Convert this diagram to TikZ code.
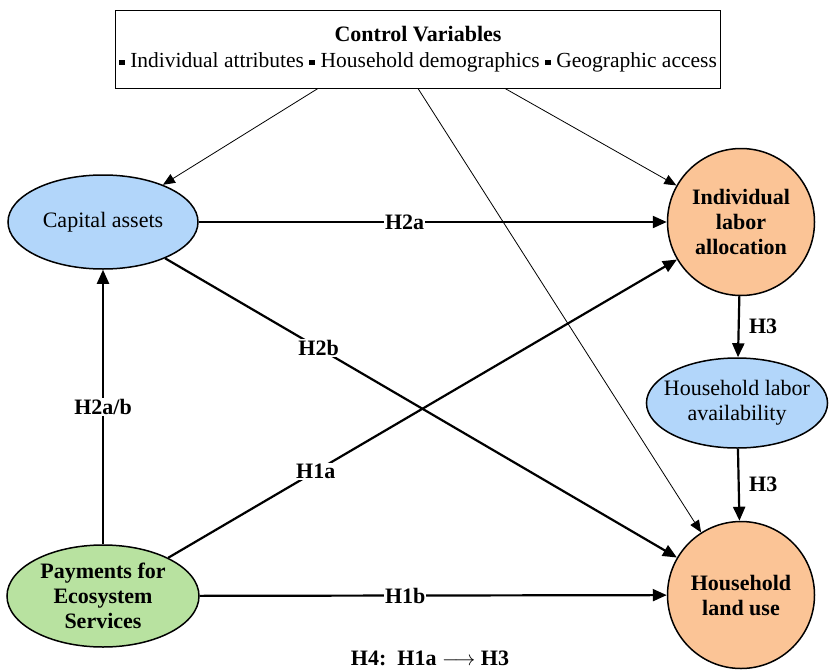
\documentclass[tikz,border=0pt]{standalone}
\usepackage{fontspec}
\setmainfont{Liberation Serif}
\usetikzlibrary{arrows.meta,shapes.geometric}

\definecolor{capblue}{RGB}{178,214,250}
\definecolor{laborange}{RGB}{251,196,150}
\definecolor{pesgreen}{RGB}{184,226,160}

\newcommand{\sqbullet}{\raisebox{0.2ex}{\rule{0.27em}{0.27em}}}

\begin{document}
\begin{tikzpicture}[x=1pt,y=-1pt,
    every node/.style={font=\fontsize{22}{25}\selectfont},
    ovalnode/.style={ellipse,draw,line width=1.5pt,inner sep=0pt,align=center},
    roundnode/.style={circle,draw,line width=1.5pt,inner sep=0pt,minimum size=147pt,
        fill=laborange,align=center,font=\fontsize{22}{25}\selectfont\bfseries},
    mainarrow/.style={line width=2.2pt,-{Triangle[length=14pt,width=12pt]}},
    ctrlarrow/.style={line width=0.8pt,-{Triangle[length=12pt,width=10pt]}},
    hyplabel/.style={fill=white,inner sep=1pt,font=\fontsize{22}{25}\selectfont\bfseries}]
        \useasboundingbox (0,0) rectangle (830,672);
        % nodes
        \node[draw,line width=0.9pt,minimum width=604pt,minimum height=78pt,align=center] (ctrl) at (418,49)
            {\textbf{Control Variables}\\[1pt]
             {\fontsize{21.5}{24}\selectfont\sqbullet\ Individual attributes \sqbullet\ Household demographics \sqbullet\ Geographic access}};
        \node[ovalnode,fill=capblue,minimum width=190pt,minimum height=94pt] (cap) at (103,222) {Capital assets};
        \node[ovalnode,fill=pesgreen,minimum width=192pt,minimum height=102pt,
              font=\fontsize{22}{25}\selectfont\bfseries] (pes) at (103,596) {Payments for\\Ecosystem\\Services};
        \node[roundnode] (indiv) at (741,222) {Individual\\labor\\allocation};
        \node[ovalnode,fill=capblue,inner xsep=-9pt,minimum width=181pt,minimum height=90pt] (avail) at (737,403)
            {Household labor\\availability};
        \node[roundnode] (land) at (741,595) {Household\\land use};
        \node[font=\fontsize{22}{25}\selectfont\bfseries] (h4) at (430,658) {H4:\ \ H1a $\longrightarrow$ H3};
        % control variables
        \draw[ctrlarrow] ([xshift=-100pt]ctrl.south) -- (cap);
        \draw[ctrlarrow] (ctrl.south) -- (land);
        \draw[ctrlarrow] ([xshift=87pt]ctrl.south) -- (indiv);
        % hypotheses
        \draw[mainarrow] (cap) -- node[hyplabel,pos=0.44] {H2a} (indiv);
        \draw[mainarrow] (cap) -- node[hyplabel,pos=0.3] {H2b} (land);
        \draw[mainarrow] (pes) -- node[hyplabel,midway] {H2a/b} (cap);
        \draw[mainarrow] (pes) -- node[hyplabel,pos=0.29] {H1a} (indiv);
        \draw[mainarrow] (pes) -- node[hyplabel,pos=0.44] {H1b} (land);
        \draw[mainarrow] (indiv) -- node[right=6pt,font=\fontsize{22}{25}\selectfont\bfseries] {H3} (avail);
        \draw[mainarrow] (avail) -- node[right=6pt,font=\fontsize{22}{25}\selectfont\bfseries] {H3} (land);
\end{tikzpicture}
\end{document}
